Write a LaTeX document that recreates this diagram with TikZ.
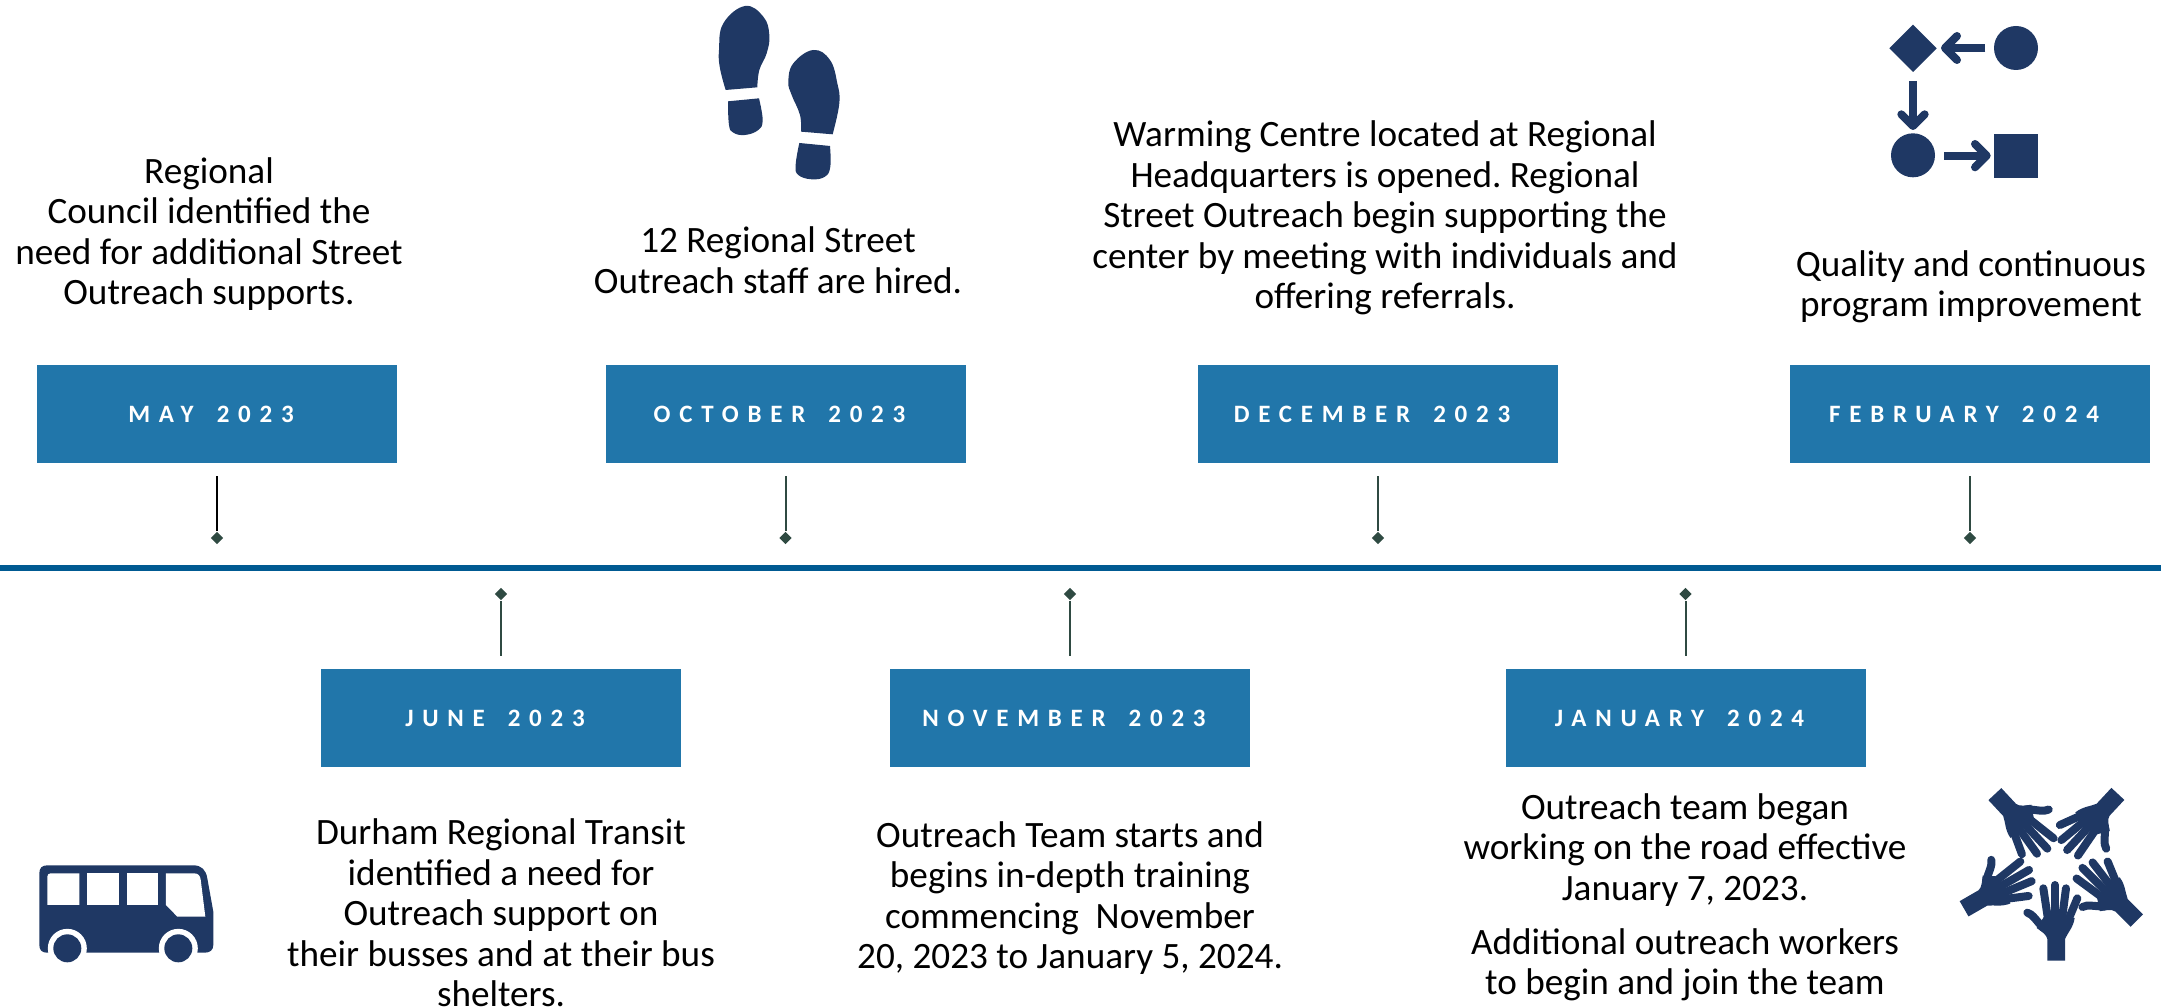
\documentclass[tikz,border=0pt]{standalone}
\usepackage{fontspec}
\setmainfont{Carlito}
\newfontfamily\labelfont[LetterSpace=35,BoldFont={Carlito Bold},WordSpace=1.6]{Carlito}
\definecolor{boxblue}{HTML}{2176AA}
\definecolor{axisblue}{HTML}{005A92}
\definecolor{tickgreen}{HTML}{2F4A42}
\definecolor{iconblue}{HTML}{1F3864}
\usetikzlibrary{shapes.geometric}
\tikzset{
 datebox/.style={fill=boxblue,minimum width=360pt,minimum height=98pt,inner sep=0pt,text=white,font=\labelfont\bfseries\fontsize{25}{29}\selectfont,execute at end node={\hspace*{12pt}}},
 story/.style={align=center,inner sep=0pt,text=black,font=\frenchspacing\fontsize{37.2}{40.5}\selectfont},
 tickmark/.style={diamond,fill=tickgreen,minimum width=12.5pt,minimum height=12.5pt,inner sep=0pt},
 tickline/.style={draw=tickgreen,line width=2pt,shorten <=13pt,shorten >=1pt},
 icon/.style={fill=iconblue,draw=none},
 iconline/.style={draw=iconblue,line width=8pt},
 iconhead/.style={draw=iconblue,line width=8pt,line cap=round,line join=round},
 finger/.style={draw=iconblue,line width=8pt,line cap=round},
}
\begin{document}
\begin{tikzpicture}[x=1pt,y=-1pt]
\useasboundingbox (0,0) rectangle (2161,1008);
% axis
\coordinate (axisL) at (0,568);
\coordinate (axisR) at (2161,568);
\draw[axisblue,line width=6pt] (axisL) -- (axisR);
% date boxes
\node[datebox] (b1) at (217,414) {MAY 2023};
\node[datebox] (b2) at (501,718) {JUNE 2023};
\node[datebox] (b3) at (785.5,414) {OCTOBER 2023};
\node[datebox] (b4) at (1070,718) {NOVEMBER 2023};
\node[datebox] (b5) at (1378,414) {DECEMBER 2023};
\node[datebox] (b6) at (1685.5,718) {JANUARY 2024};
\node[datebox] (b7) at (1970,414) {FEBRUARY 2024};
% tick diamonds
\node[tickmark] (d1) at (217,538) {};
\node[tickmark] (d2) at (501,594) {};
\node[tickmark] (d3) at (785.5,538) {};
\node[tickmark] (d4) at (1070,594) {};
\node[tickmark] (d5) at (1378,538) {};
\node[tickmark] (d6) at (1685.5,594) {};
\node[tickmark] (d7) at (1970,538) {};
\draw[tickline,draw=black] (b1.south) -- (d1.north);
\draw[tickline] (b3.south) -- (d3.north);
\draw[tickline] (b5.south) -- (d5.north);
\draw[tickline] (b7.south) -- (d7.north);
\draw[tickline] (b2.north) -- (d2.south);
\draw[tickline] (b4.north) -- (d4.south);
\draw[tickline] (b6.north) -- (d6.south);
% texts
\node[story] (t1) at (209,234) {Regional\\Council identified the\\need for additional Street\\Outreach supports.};
\node[story] (t2) at (778,260) {12 Regional Street\\Outreach staff are hired.};
\node[story] (t3) at (1385,218) {Warming Centre located at Regional\\Headquarters is opened. Regional\\Street Outreach begin supporting the\\center by meeting with individuals and\\offering referrals.};
\node[story] (t4) at (1971,287) {Quality and continuous\\program improvement};
\node[story] (t5) at (501,913) {Durham Regional Transit\\identified a need for\\Outreach support on\\their busses and at their bus\\shelters.};
\node[story] (t6) at (1070,898) {Outreach Team starts and\\begins in-depth training\\commencing\ \ November\\20, 2023 to January 5, 2024.};
\node[story] (t7) at (1685,850) {Outreach team began\\working on the road effective\\January 7, 2023.};
\node[story] (t8) at (1685,965) {Additional outreach workers\\to begin and join the team};
% footprints
\begin{scope}[xshift=680pt,x=.3333pt,y=-.3333pt]
\fill[icon] plot[smooth,tension=.7] coordinates {(137,270) (120,205) (117,150) (130,70) (195,18) (250,50) (268,105) (260,160) (238,210) (232,262)} -- cycle;
\fill[icon] (144,304) -- (237,295) -- plot[smooth,tension=.7] coordinates {(237,295) (248,360) (235,390) (195,405) (160,398) (147,375) (144,304)} -- cycle;
\fill[icon] plot[smooth,tension=.7] coordinates {(363,395) (360,345) (335,285) (325,245) (340,190) (400,150) (450,180) (472,250) (478,310) (458,403)} -- cycle;
\fill[icon] (358,429) -- (450,438) -- plot[smooth,tension=.7] coordinates {(450,438) (451,500) (435,530) (395,538) (355,525) (347,495) (358,429)} -- cycle;
\end{scope}
% process icon
\begin{scope}[xshift=1860pt,x=.3333pt,y=-.3333pt]
\fill[icon] (159,74) -- (230,145) -- (159,216) -- (88,145) -- cycle;
\fill[icon] (468,144) circle[radius=22pt];
\fill[icon] (159,466) circle[radius=22pt];
\fill[icon] (402,402) rectangle (534,534);
\draw[iconline] (376,144) -- (262,144);
\draw[iconhead] (291,108) -- (255,144) -- (291,180);
\draw[iconline] (159,243) -- (159,372);
\draw[iconhead] (124,343) -- (159,378) -- (194,343);
\draw[iconline] (252,467) -- (374,467);
\draw[iconhead] (345,432) -- (380,467) -- (345,502);
\end{scope}
% bus icon
\begin{scope}[xshift=20pt,yshift=-840pt,x=.3333pt,y=-.3333pt]
\fill[icon] (58,100) .. controls (58,84) and (66,76) .. (82,76) -- (520,76) .. controls (545,76) and (558,90) .. (562,115) -- (580,215) -- (580,315) .. controls (580,330) and (570,338) .. (555,338) -- (80,338) .. controls (66,338) and (58,330) .. (58,315) -- cycle;
\fill[white] (142,325) circle[radius=19.5pt];
\fill[white] (475,325) circle[radius=19.5pt];
\fill[icon] (142,325) circle[radius=14pt];
\fill[icon] (475,325) circle[radius=14pt];
\fill[white] (82,110) .. controls (82,104) and (86,100) .. (92,100) -- (178,100) -- (178,195) -- (82,195) -- cycle;
\fill[white] (201,100) rectangle (296,195);
\fill[white] (320,100) rectangle (415,195);
\fill[white] (438,100) -- (522,100) .. controls (534,100) and (540,106) .. (542,118) -- (556,230) -- (472,230) -- (438,195) -- cycle;
\end{scope}
% hands icon
\foreach \ang/\wx/\wy in {0/348/572, 45/590/452, 137/534/72, 223/165/72, -60/72/416}{
\begin{scope}[xshift=1940pt,yshift=-770pt,x=.3333pt,y=-.3333pt]
\begin{scope}[shift={(\wx,\wy)},rotate=\ang]
\fill[icon] (-26,0) -- (27,0) -- (27,-65) .. controls (36,-85) and (52,-100) .. (56,-128) -- (-32,-138) -- (-58,-98) .. controls (-44,-88) and (-28,-78) .. (-26,-65) -- cycle;
\draw[finger] (-86,-144) .. controls (-70,-140) and (-58,-118) .. (-38,-98);
\draw[finger] (-38,-217) -- (-24,-125);
\draw[finger] (-3,-227) -- (-3,-125);
\draw[finger] (30,-217) -- (18,-125);
\draw[finger] (64,-187) -- (38,-125);
\end{scope}
\end{scope}
}
\end{tikzpicture}
\end{document}
